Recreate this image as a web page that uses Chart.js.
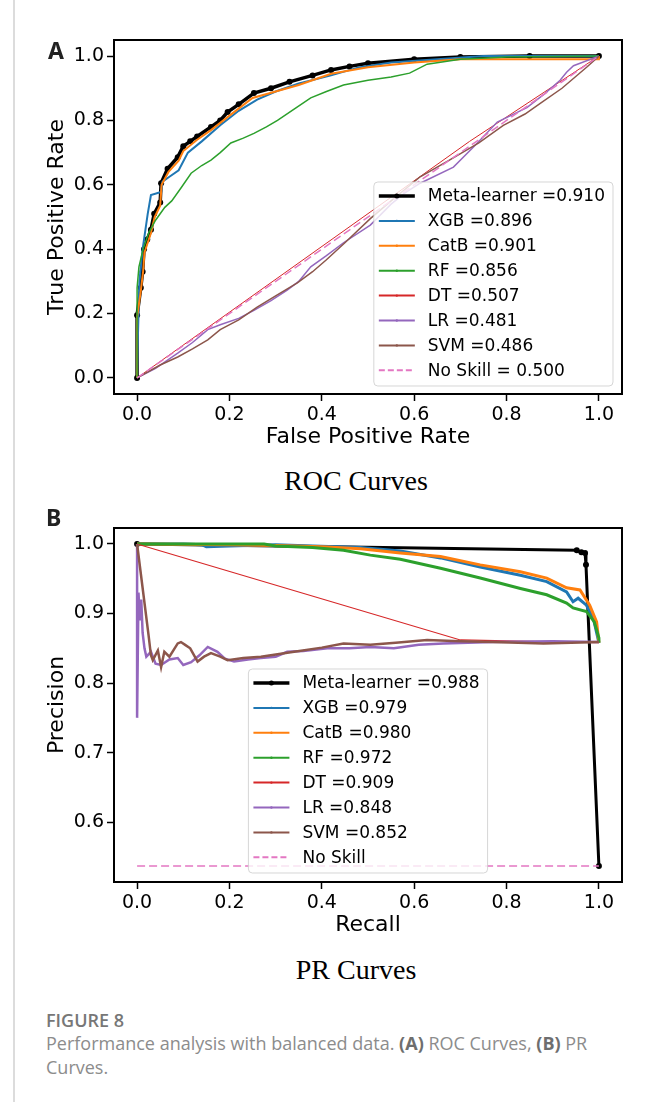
<!DOCTYPE html>
<html>
<head>
<meta charset="utf-8">
<script src="https://cdn.jsdelivr.net/npm/chart.js@4.4.1/dist/chart.umd.min.js"></script>
<style>
    body { margin: 0; background: #fff; }
    #page { position: relative; width: 656px; height: 1102px; overflow: hidden; background: #fff; }
    .rule { position: absolute; left: 13px; top: 0; width: 2px; height: 1102px; background: #dcdcdc; }
    .wrap { position: absolute; left: 0; width: 656px; height: 460px; }
    .panel { position: absolute; font-family: "Noto Sans"; font-weight: 700; font-size: 23px; line-height: 23px; color: #222; }
    .sub { position: absolute; left: 356px; transform: translateX(-50%); font-family: "Liberation Serif"; font-size: 28px; line-height: 28px; color: #000; white-space: nowrap; }
    .fig { position: absolute; left: 46px; font-family: "Open Sans"; font-weight: 600; font-size: 18px; line-height: 24px; color: #777; }
    .cap { position: absolute; left: 46px; font-family: "Open Sans"; font-size: 18px; line-height: 24px; color: #8c8c8c; white-space: nowrap; }
    .cap b { color: #6e6e6e; }
</style>
</head>
<body>
<div id="page">
    <div class="rule"></div>
    <div class="wrap" style="top:0"><canvas id="rocChart" width="656" height="460"></canvas></div>
    <div class="panel" style="left:48px; top:39px">A</div>
    <div class="sub" style="top:467px">ROC Curves</div>
    <div class="wrap" style="top:488px"><canvas id="prChart" width="656" height="460"></canvas></div>
    <div class="panel" style="left:46px; top:506px">B</div>
    <div class="sub" style="top:956px">PR Curves</div>
    <div class="fig" style="top:1008px">FIGURE 8</div>
    <div class="cap" style="top:1031px">Performance analysis with balanced data. <b>(A)</b> ROC Curves, <b>(B)</b> PR<br>Curves.</div>
</div>
<script>
// tick labels
const X_TICKS = [0, 0.2, 0.4, 0.6, 0.8, 1.0];
const ROC_Y_TICKS = [0, 0.2, 0.4, 0.6, 0.8, 1.0];
const PR_Y_TICKS = [0.6, 0.7, 0.8, 0.9, 1.0];

const ROC_LABELS = ['Meta-learner =0.910', 'XGB =0.896', 'CatB =0.901', 'RF =0.856', 'DT =0.507', 'LR =0.481', 'SVM =0.486', 'No Skill = 0.500'];
const PR_LABELS = ['Meta-learner =0.988', 'XGB =0.979', 'CatB =0.980', 'RF =0.972', 'DT =0.909', 'LR =0.848', 'SVM =0.852', 'No Skill'];

// ROC curves [fpr, tpr]
const rocMeta = [[0,0],[0,0.195],[0.008,0.28],[0.012,0.33],[0.015,0.40],[0.022,0.43],[0.03,0.46],[0.037,0.51],[0.05,0.545],[0.052,0.605],[0.066,0.65],[0.088,0.686],[0.10,0.72],[0.115,0.735],[0.13,0.75],[0.16,0.78],[0.18,0.80],[0.196,0.826],[0.22,0.85],[0.253,0.885],[0.29,0.90],[0.33,0.92],[0.38,0.94],[0.42,0.957],[0.46,0.968],[0.5,0.978],[0.6,0.99],[0.7,0.997],[0.85,1.0],[1.0,1.0]];
const rocXgb = [[0,0],[0.002,0.14],[0.005,0.3],[0.012,0.40],[0.018,0.46],[0.023,0.51],[0.03,0.568],[0.052,0.578],[0.055,0.61],[0.07,0.625],[0.09,0.645],[0.11,0.70],[0.14,0.735],[0.18,0.785],[0.22,0.83],[0.26,0.865],[0.30,0.89],[0.35,0.915],[0.42,0.94],[0.48,0.965],[0.55,0.98],[0.65,0.99],[0.75,1.0],[1.0,1.0]];
const rocCat = [[0,0],[0,0.19],[0.008,0.27],[0.013,0.33],[0.016,0.39],[0.03,0.45],[0.038,0.50],[0.05,0.535],[0.053,0.60],[0.068,0.64],[0.09,0.675],[0.10,0.705],[0.13,0.74],[0.16,0.77],[0.2,0.815],[0.25,0.87],[0.3,0.89],[0.35,0.91],[0.42,0.945],[0.5,0.965],[0.6,0.98],[0.7,0.99],[1.0,0.99],[1.0,1.0]];
const rocRf = [[0,0],[0,0.28],[0.004,0.345],[0.013,0.40],[0.025,0.45],[0.04,0.49],[0.05,0.51],[0.06,0.53],[0.075,0.55],[0.095,0.59],[0.117,0.636],[0.14,0.66],[0.16,0.677],[0.18,0.70],[0.203,0.73],[0.23,0.745],[0.253,0.76],[0.28,0.78],[0.304,0.80],[0.34,0.835],[0.376,0.87],[0.41,0.89],[0.447,0.91],[0.5,0.925],[0.55,0.935],[0.59,0.947],[0.628,0.975],[0.70,0.99],[0.8,0.997],[1.0,1.0]];
const rocDt = [[0,0],[0.72,0.735],[1,1]];
const rocLr = [[0,0],[0.04,0.03],[0.088,0.077],[0.12,0.11],[0.153,0.15],[0.18,0.165],[0.22,0.185],[0.253,0.21],[0.29,0.24],[0.325,0.273],[0.35,0.30],[0.376,0.345],[0.41,0.38],[0.447,0.42],[0.505,0.475],[0.55,0.54],[0.58,0.575],[0.613,0.605],[0.685,0.655],[0.73,0.72],[0.78,0.795],[0.844,0.84],[0.88,0.88],[0.916,0.925],[0.93,0.95],[0.945,0.97],[1,1]];
const rocSvm = [[0,0],[0.05,0.04],[0.088,0.065],[0.12,0.09],[0.153,0.118],[0.18,0.15],[0.22,0.18],[0.26,0.22],[0.3,0.255],[0.347,0.295],[0.38,0.33],[0.41,0.367],[0.45,0.42],[0.505,0.495],[0.55,0.55],[0.613,0.625],[0.68,0.68],[0.74,0.73],[0.793,0.785],[0.84,0.82],[0.873,0.853],[0.92,0.9],[0.974,0.966],[1,1]];
const rocNoSkill = [[0,0],[1,1]];

// PR curves [recall, precision]
const prMeta = [[0,1.0],[0.952,0.991],[0.962,0.988],[0.97,0.987],[0.972,0.97],[1.0,0.537]];
const prXgb = [[0,1.0],[0.1,1.0],[0.14,0.999],[0.15,0.996],[0.2,0.997],[0.3,0.999],[0.38,0.997],[0.484,0.995],[0.57,0.99],[0.657,0.98],[0.743,0.967],[0.83,0.955],[0.887,0.946],[0.93,0.931],[0.944,0.917],[0.955,0.922],[0.973,0.912],[0.988,0.893],[1.0,0.858]];
const prCat = [[0,1.0],[0.2,0.999],[0.3,0.998],[0.4,0.996],[0.484,0.993],[0.57,0.987],[0.657,0.982],[0.743,0.97],[0.83,0.96],[0.887,0.951],[0.93,0.937],[0.959,0.934],[0.98,0.912],[0.995,0.888],[1.0,0.858]];
const prRf = [[0,1.0],[0.275,1.0],[0.30,0.997],[0.38,0.995],[0.447,0.991],[0.505,0.984],[0.57,0.978],[0.657,0.965],[0.743,0.951],[0.83,0.936],[0.887,0.927],[0.93,0.915],[0.944,0.908],[0.973,0.903],[0.99,0.888],[1.0,0.865],[1.0,0.858]];
const prDt = [[0,1.0],[0.70,0.862],[1.0,0.858]];
const prLr = [[0,1.0],[0,0.75],[0.003,0.93],[0.006,0.89],[0.009,0.92],[0.012,0.872],[0.016,0.85],[0.02,0.838],[0.03,0.845],[0.04,0.828],[0.052,0.826],[0.07,0.834],[0.088,0.836],[0.1,0.826],[0.117,0.83],[0.135,0.84],[0.153,0.852],[0.174,0.845],[0.19,0.835],[0.21,0.831],[0.24,0.834],[0.268,0.836],[0.3,0.838],[0.325,0.845],[0.36,0.846],[0.412,0.85],[0.46,0.85],[0.505,0.852],[0.556,0.85],[0.61,0.855],[0.663,0.857],[0.77,0.859],[0.9,0.86],[1.0,0.859]];
const prSvm = [[0,1.0],[0.025,0.868],[0.03,0.84],[0.034,0.833],[0.045,0.847],[0.052,0.823],[0.059,0.845],[0.07,0.838],[0.088,0.857],[0.095,0.859],[0.104,0.855],[0.115,0.85],[0.131,0.831],[0.145,0.838],[0.16,0.843],[0.18,0.838],[0.196,0.833],[0.23,0.836],[0.268,0.838],[0.34,0.845],[0.4,0.851],[0.447,0.857],[0.505,0.855],[0.56,0.858],[0.628,0.862],[0.7,0.86],[0.77,0.859],[0.88,0.857],[1.0,0.859]];
const prNoSkill = [[0,0.537],[1,0.537]];

const COLORS = ['#000000', '#1f77b4', '#ff7f0e', '#2ca02c', '#d62728', '#9467bd', '#8c564b', '#e377c2'];
const ROC_WIDTHS = [3.5, 2, 2, 1.5, 1, 1.5, 1.5, 1.5];
const PR_WIDTHS = [3, 3, 3, 3, 1.2, 2.5, 2.5, 1.5];

Chart.defaults.font.family = '"DejaVu Sans"';
Chart.defaults.color = '#000';

// axes box + matplotlib style legend inside the plot
const boxLegend = {
    id: 'boxLegend',
    afterDatasetsDraw(chart, args, opts) {
        const { ctx, chartArea: a } = chart;
        const sets = chart.data.datasets;
        ctx.save();
        ctx.lineWidth = 2;
        ctx.strokeStyle = '#000';
        ctx.strokeRect(a.left, a.top, a.right - a.left, a.bottom - a.top);

        ctx.font = '17px "DejaVu Sans"';
        const textW = Math.max(...sets.map(d => ctx.measureText(d.label).width));
        const w = 54 + textW + 8, h = 204;
        const x = opts.align === 'center' ? (a.left + a.right) / 2 - w / 2 : a.right - 9 - w;
        const y = a.bottom - opts.bottom - h;
        ctx.beginPath();
        ctx.roundRect(x, y, w, h, 4);
        ctx.fillStyle = 'rgba(255,255,255,0.8)';
        ctx.fill();
        ctx.lineWidth = 1;
        ctx.strokeStyle = 'rgba(204,204,204,0.8)';
        ctx.stroke();

        sets.forEach((d, i) => {
            const cy = y + 14 + i * 24.9;
            const dashed = d.borderDash.length > 0;
            ctx.beginPath();
            ctx.setLineDash(dashed ? [6, 3] : []);
            ctx.moveTo(x + 5, cy);
            ctx.lineTo(x + 41, cy);
            ctx.strokeStyle = d.borderColor;
            ctx.lineWidth = i === 0 ? 3.5 : 2;
            ctx.stroke();
            ctx.setLineDash([]);
            if (!dashed) {
                ctx.beginPath();
                ctx.arc(x + 23, cy, i === 0 ? 2.5 : 1.2, 0, Math.PI * 2);
                ctx.fillStyle = d.borderColor;
                ctx.fill();
            }
            ctx.fillStyle = '#000';
            ctx.textBaseline = 'middle';
            ctx.fillText(d.label, x + 54, cy + 1);
        });
        ctx.restore();
    }
};

function makeChart(id, series, labels, widths, yMin, yMax, yTicks, xTitle, yTitle, align, legBottom) {
    const datasets = series.map((pts, i) => ({
        label: labels[i],
        data: pts.map(p => ({ x: p[0], y: p[1] })),
        showLine: true,
        borderColor: COLORS[i],
        backgroundColor: COLORS[i],
        borderWidth: widths[i],
        borderDash: i === 7 ? [8, 4] : [],
        pointRadius: i === 0 ? 3 : 0,
        pointBorderWidth: 0,
        tension: 0,
        order: series.length - i
    }));
    const tickFont = { size: 19 };
    return new Chart(document.getElementById(id), {
        type: 'scatter',
        data: { datasets },
        plugins: [boxLegend],
        options: {
            responsive: false,
            animation: false,
            events: [],
            layout: { padding: { left: 0, right: 34, top: 40, bottom: 0 } },
            plugins: {
                legend: { display: false },
                tooltip: { enabled: false },
                boxLegend: { align: align, bottom: legBottom }
            },
            scales: {
                x: {
                    type: 'linear', min: -0.05, max: 1.05,
                    afterFit: s => { s.height = 66; },
                    afterBuildTicks: s => { s.ticks = X_TICKS.map(v => ({ value: v })); },
                    ticks: { callback: v => v.toFixed(1), font: tickFont, color: '#000', padding: 3, maxRotation: 0, autoSkip: false },
                    grid: { drawOnChartArea: false, drawTicks: true, tickLength: 7, tickColor: '#000', tickWidth: 1.5 },
                    border: { display: false },
                    title: { display: true, text: xTitle, font: { size: 22 }, color: '#000', padding: { top: 0, bottom: 10 } }
                },
                y: {
                    type: 'linear', min: yMin, max: yMax,
                    afterFit: s => { s.width = 114; },
                    afterBuildTicks: s => { s.ticks = yTicks.map(v => ({ value: v })); },
                    ticks: { callback: v => v.toFixed(1), font: tickFont, color: '#000', padding: 3, autoSkip: false },
                    grid: { drawOnChartArea: false, drawTicks: true, tickLength: 7, tickColor: '#000', tickWidth: 1.5 },
                    border: { display: false },
                    title: { display: true, text: yTitle, font: { size: 22 }, color: '#000', padding: { top: 44, bottom: 0 } }
                }
            }
        }
    });
}

makeChart('rocChart',
    [rocMeta, rocXgb, rocCat, rocRf, rocDt, rocLr, rocSvm, rocNoSkill],
    ROC_LABELS, ROC_WIDTHS, -0.05, 1.05, ROC_Y_TICKS,
    'False Positive Rate', 'True Positive Rate', 'right', 8);

makeChart('prChart',
    [prMeta, prXgb, prCat, prRf, prDt, prLr, prSvm, prNoSkill],
    PR_LABELS, PR_WIDTHS, 0.514, 1.023, PR_Y_TICKS,
    'Recall', 'Precision', 'center', 9);
</script>
</body>
</html>
